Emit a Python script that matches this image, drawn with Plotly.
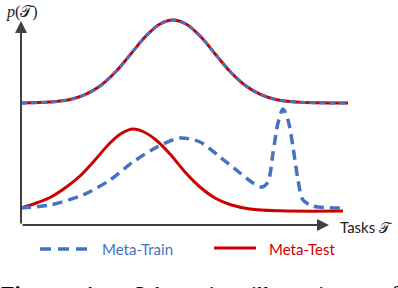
import plotly.graph_objects as go

# Schematic task distributions (x: task axis, y: density, arbitrary units)
top_x = [0, 29, 49, 64, 79, 94, 109, 124, 139, 152, 165, 180, 195, 210, 225, 240, 255, 275, 327]
top_y = [122, 123, 125.5, 130.3, 139, 152.5, 170, 188, 201, 205, 201, 188, 170, 152.5, 139, 130.3, 125.5, 123, 122]

test_x = [0, 14, 29, 44, 59, 74, 89, 101, 112, 123, 135, 149, 164, 179, 194, 209, 229, 259, 322]
test_y = [17, 21.5, 27.5, 37, 49, 65, 82, 92, 96, 93, 85, 71, 53, 38, 27, 20.5, 16, 14.2, 14]

train_x = [0, 29, 62, 89, 112, 136, 159, 179, 199, 219, 232, 241, 247, 252, 257, 262, 267, 272, 277, 282, 292, 321]
train_y = [17, 20, 30, 45, 63, 78, 87, 83, 68, 52, 42, 38, 43, 72, 102, 116, 105, 78, 45, 25, 19, 17]

legend_names = ["Meta-Train", "Meta-Test"]
x_label = "Tasks 𝒯"
y_label = "<i>p</i>(𝒯)"
caption_words = ["<b>Figure</b>", "<b>1:</b>", "Schematic", "illustration", "of"]

RED = "#CC0000"
BLUE = "#4472C4"
AX = "#404040"

fig = go.Figure()
fig.add_trace(go.Scatter(x=top_x, y=top_y, mode="lines", line=dict(color=RED, width=3, shape="spline", smoothing=1.0),
                         showlegend=False, hoverinfo="skip"))
fig.add_trace(go.Scatter(x=top_x, y=top_y, mode="lines", line=dict(color=BLUE, width=3, dash="6px,4px", shape="spline", smoothing=1.0),
                         showlegend=False, hoverinfo="skip"))
fig.add_trace(go.Scatter(x=test_x, y=test_y, mode="lines", name=legend_names[1],
                         line=dict(color=RED, width=3, shape="spline", smoothing=1.0), showlegend=False))
fig.add_trace(go.Scatter(x=train_x, y=train_y, mode="lines", name=legend_names[0],
                         line=dict(color=BLUE, width=3.5, dash="10px,6px", shape="spline", smoothing=0.8), showlegend=False))

W, H = 398, 288
L, R, T, B = 21, 40, 10, 63
pw, ph = W - L - R, H - T - B

def px(x):
    return (x - L) / pw

def py(y):
    return (H - B - y) / ph

# axes with arrows
fig.add_annotation(x=0, y=204, ax=0, ay=0, xref="x", yref="y", axref="x", ayref="y", text="",
                   showarrow=True, arrowhead=2, arrowsize=1.2, arrowwidth=2, arrowcolor=AX)
fig.add_annotation(x=308, y=0, ax=0, ay=0, xref="x", yref="y", axref="x", ayref="y", text="",
                   showarrow=True, arrowhead=2, arrowsize=1.2, arrowwidth=2, arrowcolor=AX)

fig.add_annotation(x=px(338), y=py(227), xref="paper", yref="paper", text=x_label, showarrow=False,
                   xanchor="left", yanchor="middle", font=dict(family="Lato", size=15, color="#202020"))
fig.add_annotation(x=px(4), y=py(12), xref="paper", yref="paper", text=y_label, showarrow=False,
                   xanchor="left", yanchor="middle", font=dict(family="Liberation Serif", size=16, color="#202020"))

# legend
fig.add_shape(type="line", xref="paper", yref="paper", x0=px(40), x1=px(90), y0=py(249), y1=py(249),
              line=dict(color=BLUE, width=3.5, dash="11px,7px"))
fig.add_shape(type="line", xref="paper", yref="paper", x0=px(214), x1=px(256), y0=py(248), y1=py(248),
              line=dict(color=RED, width=3))
fig.add_annotation(x=px(100), y=py(249), xref="paper", yref="paper", text=legend_names[0], showarrow=False,
                   xanchor="left", yanchor="middle", font=dict(family="Lato", size=15, color=BLUE))
fig.add_annotation(x=px(267), y=py(249), xref="paper", yref="paper", text=legend_names[1], showarrow=False,
                   xanchor="left", yanchor="middle", font=dict(family="Lato", size=15, color=RED))

# caption (partially cut off, as in the source)
for word, xpos in zip(caption_words, [-1, 82, 131, 249, 378]):
    fig.add_annotation(x=px(xpos), y=py(279), xref="paper", yref="paper", text=word, showarrow=False,
                       xanchor="left", yanchor="top", font=dict(family="Liberation Serif", size=22, color="#000000"))

fig.update_xaxes(visible=False, range=[0, pw], fixedrange=True)
fig.update_yaxes(visible=False, range=[0, ph], fixedrange=True)
fig.update_layout(width=W, height=H, margin=dict(l=L, r=R, t=T, b=B), plot_bgcolor="white", paper_bgcolor="white")

fig.write_html("out.html", config={"displayModeBar": False},
               post_script="document.body.style.margin='0';document.body.style.overflow='hidden';")
